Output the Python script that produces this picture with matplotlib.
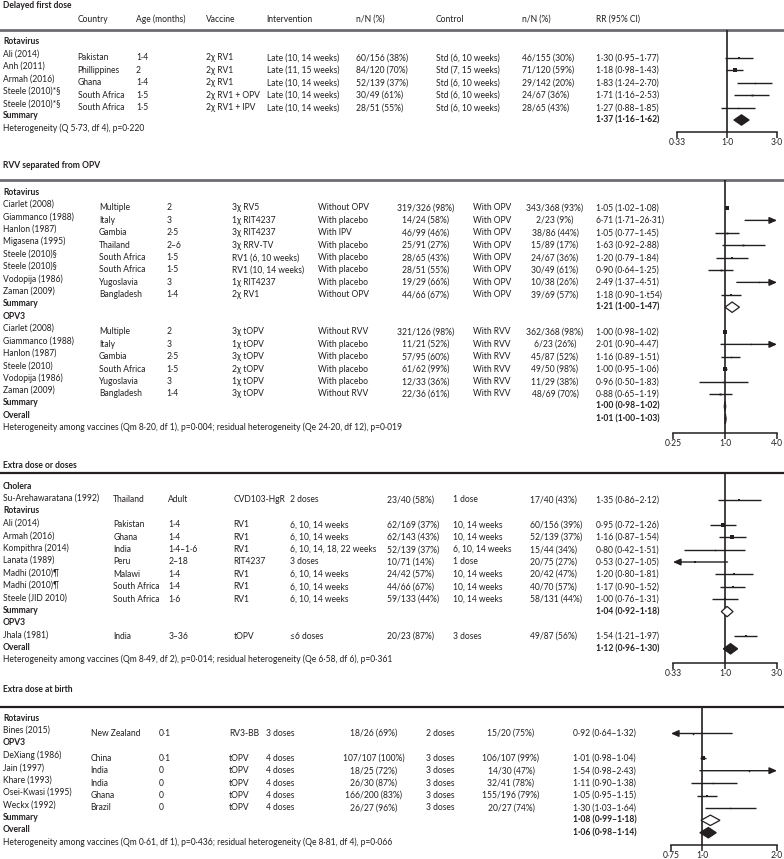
import matplotlib
matplotlib.use("Agg")
import matplotlib.pyplot as plt
from matplotlib import font_manager
from matplotlib.ticker import NullLocator

## ---------------- data ----------------
## Delayed first dose
d1_study = ["Ali (2014)", "Anh (2011)", "Armah (2016)", "Steele (2010)*§", "Steele (2010)*§"]
d1_country = ["Pakistan", "Phillippines", "Ghana", "South Africa", "South Africa"]
d1_age = ["1·4", "2", "1·4", "1·5", "1·5"]
d1_vaccine = ["2χ RV1", "2χ RV1", "2χ RV1", "2χ RV1 + OPV", "2χ RV1 + IPV"]
d1_interv = ["Late (10, 14 weeks)", "Late (11, 15 weeks)", "Late (10, 14 weeks)",
             "Late (10, 14 weeks)", "Late (10, 14 weeks)"]
d1_n_int = ["60/156 (38%)", "84/120 (70%)", "52/139 (37%)", "30/49 (61%)", "28/51 (55%)"]
d1_control = ["Std (6, 10 weeks)", "Std (7, 15 weeks)", "Std (6, 10 weeks)",
              "Std (6, 10 weeks)", "Std (6, 10 weeks)"]
d1_n_ctl = ["46/155 (30%)", "71/120 (59%)", "29/142 (20%)", "24/67 (36%)", "28/65 (43%)"]
d1_rr = [1.30, 1.18, 1.83, 1.71, 1.27]
d1_lo = [0.95, 0.98, 1.24, 1.16, 0.88]
d1_hi = [1.77, 1.43, 2.70, 2.53, 1.85]
d1_w = [1.6, 2.4, 1.0, 1.3, 1.0]
d1_sum = (1.37, 1.16, 1.62)
d1_het = "Heterogeneity (Q 5·73, df 4), p=0·220"

## RVV separated from OPV -- rotavirus
d2r_study = ["Ciarlet (2008)", "Giammanco (1988)", "Hanlon (1987)", "Migasena (1995)",
             "Steele (2010)§", "Steele (2010)§", "Vodopija (1986)", "Zaman (2009)"]
d2r_country = ["Multiple", "Italy", "Gambia", "Thailand", "South Africa", "South Africa",
               "Yugoslavia", "Bangladesh"]
d2r_age = ["2", "3", "2·5", "2–6", "1·5", "1·5", "3", "1·4"]
d2r_vaccine = ["3χ RV5", "1χ RIT4237", "3χ RIT4237", "3χ RRV-TV", "RV1 (6, 10 weeks)",
               "RV1 (10, 14 weeks)", "1χ RIT4237", "2χ RV1"]
d2r_interv = ["Without OPV", "With placebo", "With IPV", "With placebo", "With placebo",
              "With placebo", "With placebo", "Without OPV"]
d2r_n_int = ["319/326 (98%)", "14/24 (58%)", "46/99 (46%)", "25/91 (27%)", "28/65 (43%)",
             "28/51 (55%)", "19/29 (66%)", "44/66 (67%)"]
d2r_control = ["With OPV"] * 8
d2r_n_ctl = ["343/368 (93%)", "2/23 (9%)", "38/86 (44%)", "15/89 (17%)", "24/67 (36%)",
             "30/49 (61%)", "10/38 (26%)", "39/69 (57%)"]
d2r_rr_txt = ["1·05 (1·02–1·08)", "6·71 (1·71–26·31)", "1·05 (0·77–1·45)", "1·63 (0·92–2·88)",
              "1·20 (0·79–1·84)", "0·90 (0·64–1·25)", "2·49 (1·37–4·51)", "1·18 (0·90–1·t54)"]
d2r_rr = [1.05, 6.71, 1.05, 1.63, 1.20, 0.90, 2.49, 1.18]
d2r_lo = [1.02, 1.71, 0.77, 0.92, 0.79, 0.64, 1.37, 0.90]
d2r_hi = [1.08, 26.31, 1.45, 2.88, 1.84, 1.25, 4.51, 1.54]
d2r_w = [3.0, 1.0, 1.3, 1.3, 1.5, 1.3, 1.0, 1.5]
d2r_sum = (1.21, 1.00, 1.47)

## RVV separated from OPV -- OPV3
d2o_study = ["Ciarlet (2008)", "Giammanco (1988)", "Hanlon (1987)", "Steele (2010)",
             "Vodopija (1986)", "Zaman (2009)"]
d2o_country = ["Multiple", "Italy", "Gambia", "South Africa", "Yugoslavia", "Bangladesh"]
d2o_age = ["2", "3", "2·5", "1·5", "3", "1·4"]
d2o_vaccine = ["3χ tOPV", "1χ tOPV", "3χ tOPV", "2χ tOPV", "1χ tOPV", "3χ tOPV"]
d2o_interv = ["Without RVV", "With placebo", "With placebo", "With placebo", "With placebo",
              "Without RVV"]
d2o_n_int = ["321/126 (98%)", "11/21 (52%)", "57/95 (60%)", "61/62 (99%)", "12/33 (36%)",
             "22/36 (61%)"]
d2o_control = ["With RVV"] * 6
d2o_n_ctl = ["362/368 (98%)", "6/23 (26%)", "45/87 (52%)", "49/50 (98%)", "11/29 (38%)",
             "48/69 (70%)"]
d2o_rr = [1.00, 2.01, 1.16, 1.00, 0.96, 0.88]
d2o_lo = [0.98, 0.90, 0.89, 0.95, 0.50, 0.65]
d2o_hi = [1.02, 4.47, 1.51, 1.06, 1.83, 1.19]
d2o_w = [3.0, 1.0, 1.0, 2.2, 1.0, 1.4]
d2o_sum = (1.00, 0.98, 1.02)
d2_overall = (1.01, 1.00, 1.03)
d2_het = ("Heterogeneity among vaccines (Qm 8·20, df 1), p=0·004; "
          "residual heterogeneity (Qe 24·20, df 12), p=0·019")

## Extra dose or doses
d3c_study = ["Su-Arehawaratana (1992)"]
d3c_country = ["Thailand"]
d3c_age = ["Adult"]
d3c_vaccine = ["CVD103-HgR"]
d3c_interv = ["2 doses"]
d3c_n_int = ["23/40 (58%)"]
d3c_control = ["1 dose"]
d3c_n_ctl = ["17/40 (43%)"]
d3c_rr = [1.35]
d3c_lo = [0.86]
d3c_hi = [2.12]
d3c_w = [1.8]

d3r_study = ["Ali (2014)", "Armah (2016)", "Kompithra (2014)", "Lanata (1989)",
             "Madhi (2010)¶", "Madhi (2010)¶", "Steele (JID 2010)"]
d3r_country = ["Pakistan", "Ghana", "India", "Peru", "Malawi", "South Africa", "South Africa"]
d3r_age = ["1·4", "1·4", "1·4–1·6", "2–18", "1·4", "1·4", "1·6"]
d3r_vaccine = ["RV1", "RV1", "RV1", "RIT4237", "RV1", "RV1", "RV1"]
d3r_interv = ["6, 10, 14 weeks", "6, 10, 14 weeks", "6, 10, 14, 18, 22 weeks", "3 doses",
              "6, 10, 14 weeks", "6, 10, 14 weeks", "6, 10, 14 weeks"]
d3r_n_int = ["62/169 (37%)", "62/143 (43%)", "52/139 (37%)", "10/71 (14%)", "24/42 (57%)",
             "44/66 (67%)", "59/133 (44%)"]
d3r_control = ["10, 14 weeks", "10, 14 weeks", "6, 10, 14 weeks", "1 dose", "10, 14 weeks",
               "10, 14 weeks", "10, 14 weeks"]
d3r_n_ctl = ["60/156 (39%)", "52/139 (37%)", "15/44 (34%)", "20/75 (27%)", "20/42 (47%)",
             "40/70 (57%)", "58/131 (44%)"]
d3r_rr = [0.95, 1.16, 0.80, 0.53, 1.20, 1.17, 1.00]
d3r_lo = [0.72, 0.87, 0.42, 0.27, 0.80, 0.90, 0.76]
d3r_hi = [1.26, 1.54, 1.51, 1.05, 1.81, 1.52, 1.31]
d3r_w = [2.2, 2.2, 1.0, 1.8, 1.5, 1.8, 1.5]
d3r_sum = (1.04, 0.92, 1.18)

d3o_study = ["Jhala (1981)"]
d3o_country = ["India"]
d3o_age = ["3–36"]
d3o_vaccine = ["tOPV"]
d3o_interv = ["≤6 doses"]
d3o_n_int = ["20/23 (87%)"]
d3o_control = ["3 doses"]
d3o_n_ctl = ["49/87 (56%)"]
d3o_rr = [1.54]
d3o_lo = [1.21]
d3o_hi = [1.97]
d3o_w = [1.8]
d3_overall = (1.12, 0.96, 1.30)
d3_het = ("Heterogeneity among vaccines (Qm 8·49, df 2), p=0·014; "
          "residual heterogeneity (Qe 6·58, df 6), p=0·361")

## Extra dose at birth
d4r_study = ["Bines (2015)"]
d4r_country = ["New Zealand"]
d4r_age = ["0·1"]
d4r_vaccine = ["RV3-BB"]
d4r_interv = ["3 doses"]
d4r_n_int = ["18/26 (69%)"]
d4r_control = ["2 doses"]
d4r_n_ctl = ["15/20 (75%)"]
d4r_rr = [0.92]
d4r_lo = [0.64]
d4r_hi = [1.32]
d4r_w = [1.0]

d4o_study = ["DeXiang (1986)", "Jain (1997)", "Khare (1993)", "Osei-Kwasi (1995)", "Weckx (1992)"]
d4o_country = ["China", "India", "India", "Ghana", "Brazil"]
d4o_age = ["0·1", "0", "0", "0", "0"]
d4o_vaccine = ["tOPV"] * 5
d4o_interv = ["4 doses"] * 5
d4o_n_int = ["107/107 (100%)", "18/25 (72%)", "26/30 (87%)", "166/200 (83%)", "26/27 (96%)"]
d4o_control = ["3 doses"] * 5
d4o_n_ctl = ["106/107 (99%)", "14/30 (47%)", "32/41 (78%)", "155/196 (79%)", "20/27 (74%)"]
d4o_rr = [1.01, 1.54, 1.11, 1.05, 1.30]
d4o_lo = [0.98, 0.98, 0.90, 0.95, 1.03]
d4o_hi = [1.04, 2.43, 1.38, 1.15, 1.64]
d4o_w = [2.4, 1.0, 1.0, 1.6, 1.0]
d4o_sum = (1.08, 0.99, 1.18)
d4_overall = (1.06, 0.98, 1.14)
d4_het = ("Heterogeneity among vaccines (Qm 0·61, df 1), p=0·436; "
          "residual heterogeneity (Qe 8·81, df 4), p=0·066")

headers = ["Country", "Age (months)", "Vaccine", "Intervention", "n/N (%)", "Control",
           "n/N (%)", "RR (95% CI)"]

## ---------------- drawing ----------------
W, H = 784, 859
PITCH = 12.4
INK = "#231f20"

plt.rcParams["font.family"] = ["Lato", "DejaVu Sans"]

fig = plt.figure(figsize=(W / 100, H / 100), dpi=100)
ax0 = fig.add_axes([0, 0, 1, 1])
ax0.set_xlim(0, W)
ax0.set_ylim(H, 0)
ax0.axis("off")

## pick the font size so the long heterogeneity line is as wide as in the journal figure
probe = ax0.text(0, 0, d2_het, fontsize=10)
r = fig.canvas.get_renderer()
FS = 10 * 400 / probe.get_window_extent(renderer=r).width
probe.remove()


def fmt(v):
    return f"{v:.2f}".replace(".", "·")


def rr_label(est, lo, hi):
    return f"{fmt(est)} ({fmt(lo)}–{fmt(hi)})"


def txt(x, y, s, bold=False, ha="left"):
    ax0.text(x, y, s, ha=ha, va="center", fontsize=FS, color=INK,
             fontweight="bold" if bold else "normal")


def forest(x_lo, x_hi, y_top, y_axis, y0, lim, ticks, labels):
    ax = fig.add_axes([x_lo / W, 1 - y_axis / H, (x_hi - x_lo) / W, (y_axis - y_top) / H])
    ax.set_xscale("log")
    ax.set_xlim(*lim)
    ax.set_ylim((y_axis - y0) / PITCH, (y_top - y0) / PITCH)
    ax.patch.set_visible(False)
    for s in ("top", "right", "left"):
        ax.spines[s].set_visible(False)
    ax.spines["bottom"].set_linewidth(1.1)
    ax.spines["bottom"].set_color(INK)
    ax.set_xticks(ticks)
    ax.set_xticklabels(labels)
    ax.xaxis.set_minor_locator(NullLocator())
    ax.tick_params(axis="x", direction="out", length=4, width=1.1, pad=0.5,
                   labelsize=FS, colors=INK)
    ax.set_yticks([])
    ax.axvline(1.0, color=INK, lw=1.2)
    return ax


def study_mark(ax, k, est, lo, hi, w):
    xmin, xmax = ax.get_xlim()
    a, b = max(lo, xmin), min(hi, xmax)
    arrow = dict(arrowstyle="-|>,head_length=0.45,head_width=0.2", color=INK, lw=1.0,
                 shrinkA=0, shrinkB=0)
    if hi > xmax:
        ax.annotate("", xy=(xmax, k), xytext=(a, k), arrowprops=arrow, annotation_clip=False)
    elif lo < xmin:
        ax.annotate("", xy=(xmin, k), xytext=(b, k), arrowprops=arrow, annotation_clip=False)
    else:
        ax.plot([a, b], [k, k], color=INK, lw=1.0, solid_capstyle="butt")
    if xmin <= est <= xmax:
        ax.plot(est, k, "s", ms=w, color=INK, mew=0)


def diamond(ax, k, est, lo, hi, filled):
    h = 0.42
    ax.fill([lo, est, hi, est], [k, k - h, k, k + h], facecolor=INK if filled else "white",
            edgecolor=INK, lw=0.9, zorder=3)


def block(ax, cols, y0, off, k, study, cols_data, rr, lo, hi, w, rr_txt=None):
    for i in range(len(study)):
        y = y0 + PITCH * (k + i)
        txt(3, y - off, study[i])
        vals = [c[i] for c in cols_data]
        vals.append(rr_txt[i] if rr_txt else rr_label(rr[i], lo[i], hi[i]))
        for (x, ha), v in zip(cols, vals):
            txt(x, y, v, ha=ha)
        study_mark(ax, k + i, rr[i], lo[i], hi[i], w[i])


def summary_row(ax, cols, y0, off, k, label, vals, filled):
    y = y0 + PITCH * k
    txt(3, y - off, label, bold=True)
    txt(cols[-1][0], y, rr_label(*vals), bold=True)
    diamond(ax, k, *vals, filled)


## Section 1: delayed first dose
cols1 = [(77.7, "left"), (136, "left"), (205.7, "left"), (266.7, "left"), (356, "left"),
         (436, "left"), (521.7, "left"), (596, "left")]
y0, off = 58, 4
txt(3, 5, "Delayed first dose", bold=True)
for (x, ha), h in zip(cols1, headers):
    txt(x, 19, h)
ax0.plot([0, W], [30, 30], color="#6d6e71", lw=2)
ax1 = forest(677, 777, 30, 132, y0, (0.33, 3.0), [0.33, 1, 3], ["0·33", "1·0", "3·0"])
txt(3, y0 - PITCH - off, "Rotavirus", bold=True)
block(ax1, cols1, y0, off, 0, d1_study,
      [d1_country, d1_age, d1_vaccine, d1_interv, d1_n_int, d1_control, d1_n_ctl],
      d1_rr, d1_lo, d1_hi, d1_w)
summary_row(ax1, cols1, y0, off, 5, "Summary", d1_sum, True)
txt(3, y0 + PITCH * 6 - off, d1_het)

## Section 2: RVV separated from OPV
cols2 = [(99, "left"), (166.7, "left"), (232.3, "left"), (318.3, "left"), (426, "center"),
         (472.7, "left"), (555, "center"), (596, "left")]
y0, off = 208, 3.5
txt(3, 165, "RVV separated from OPV", bold=True)
ax0.plot([0, W], [180, 180], color="#6d6e71", lw=2)
ax2 = forest(673, 777, 180, 433, y0, (0.25, 4.0), [0.25, 1, 4], ["0·25", "1·0", "4·0"])
txt(3, y0 - PITCH - off, "Rotavirus", bold=True)
block(ax2, cols2, y0, off, 0, d2r_study,
      [d2r_country, d2r_age, d2r_vaccine, d2r_interv, d2r_n_int, d2r_control, d2r_n_ctl],
      d2r_rr, d2r_lo, d2r_hi, d2r_w, rr_txt=d2r_rr_txt)
summary_row(ax2, cols2, y0, off, 8, "Summary", d2r_sum, False)
txt(3, y0 + PITCH * 9 - off, "OPV3", bold=True)
block(ax2, cols2, y0, off, 10, d2o_study,
      [d2o_country, d2o_age, d2o_vaccine, d2o_interv, d2o_n_int, d2o_control, d2o_n_ctl],
      d2o_rr, d2o_lo, d2o_hi, d2o_w)
summary_row(ax2, cols2, y0, off, 16, "Summary", d2o_sum, False)
summary_row(ax2, cols2, y0, off, 17, "Overall", d2_overall, True)
txt(3, y0 + PITCH * 18 - off, d2_het)

## Section 3: extra dose or doses
cols3 = [(113.3, "left"), (168.3, "left"), (233.3, "left"), (290, "left"), (387, "left"),
         (453.5, "left"), (530, "left"), (596, "left")]
y0, off = 500, 1.5
txt(3, 465, "Extra dose or doses", bold=True)
ax0.plot([0, W], [473, 473], color=INK, lw=1.6)
ax3 = forest(673, 777, 473, 663, y0, (0.33, 3.0), [0.33, 1, 3], ["0·33", "1·0", "3·0"])
txt(3, y0 - PITCH - off, "Cholera", bold=True)
block(ax3, cols3, y0, off, 0, d3c_study,
      [d3c_country, d3c_age, d3c_vaccine, d3c_interv, d3c_n_int, d3c_control, d3c_n_ctl],
      d3c_rr, d3c_lo, d3c_hi, d3c_w)
txt(3, y0 + PITCH - off, "Rotavirus", bold=True)
block(ax3, cols3, y0, off, 2, d3r_study,
      [d3r_country, d3r_age, d3r_vaccine, d3r_interv, d3r_n_int, d3r_control, d3r_n_ctl],
      d3r_rr, d3r_lo, d3r_hi, d3r_w)
summary_row(ax3, cols3, y0, off, 9, "Summary", d3r_sum, False)
txt(3, y0 + PITCH * 10 - off, "OPV3", bold=True)
block(ax3, cols3, y0, off, 11, d3o_study,
      [d3o_country, d3o_age, d3o_vaccine, d3o_interv, d3o_n_int, d3o_control, d3o_n_ctl],
      d3o_rr, d3o_lo, d3o_hi, d3o_w)
summary_row(ax3, cols3, y0, off, 12, "Overall", d3_overall, True)
txt(3, y0 + PITCH * 13 - off, d3_het)

## Section 4: extra dose at birth
cols4 = [(90.7, "left"), (158.5, "left"), (229, "left"), (266, "left"), (374, "center"),
         (426, "left"), (511, "center"), (573, "left")]
y0, off = 733.5, 3
txt(3, 690, "Extra dose at birth", bold=True)
ax0.plot([0, W], [707, 707], color=INK, lw=1.6)
ax4 = forest(671, 777, 707, 845, y0, (0.75, 2.0), [0.75, 1, 2], ["0·75", "1·0", "2·0"])
txt(3, y0 - PITCH - off, "Rotavirus", bold=True)
block(ax4, cols4, y0, off, 0, d4r_study,
      [d4r_country, d4r_age, d4r_vaccine, d4r_interv, d4r_n_int, d4r_control, d4r_n_ctl],
      d4r_rr, d4r_lo, d4r_hi, d4r_w)
txt(3, y0 + PITCH - off, "OPV3", bold=True)
block(ax4, cols4, y0, off, 2, d4o_study,
      [d4o_country, d4o_age, d4o_vaccine, d4o_interv, d4o_n_int, d4o_control, d4o_n_ctl],
      d4o_rr, d4o_lo, d4o_hi, d4o_w)
summary_row(ax4, cols4, y0, off, 7, "Summary", d4o_sum, False)
summary_row(ax4, cols4, y0, off, 8, "Overall", d4_overall, True)
txt(3, y0 + PITCH * 9 - off, d4_het)

fig.savefig("out.png", dpi=100)
